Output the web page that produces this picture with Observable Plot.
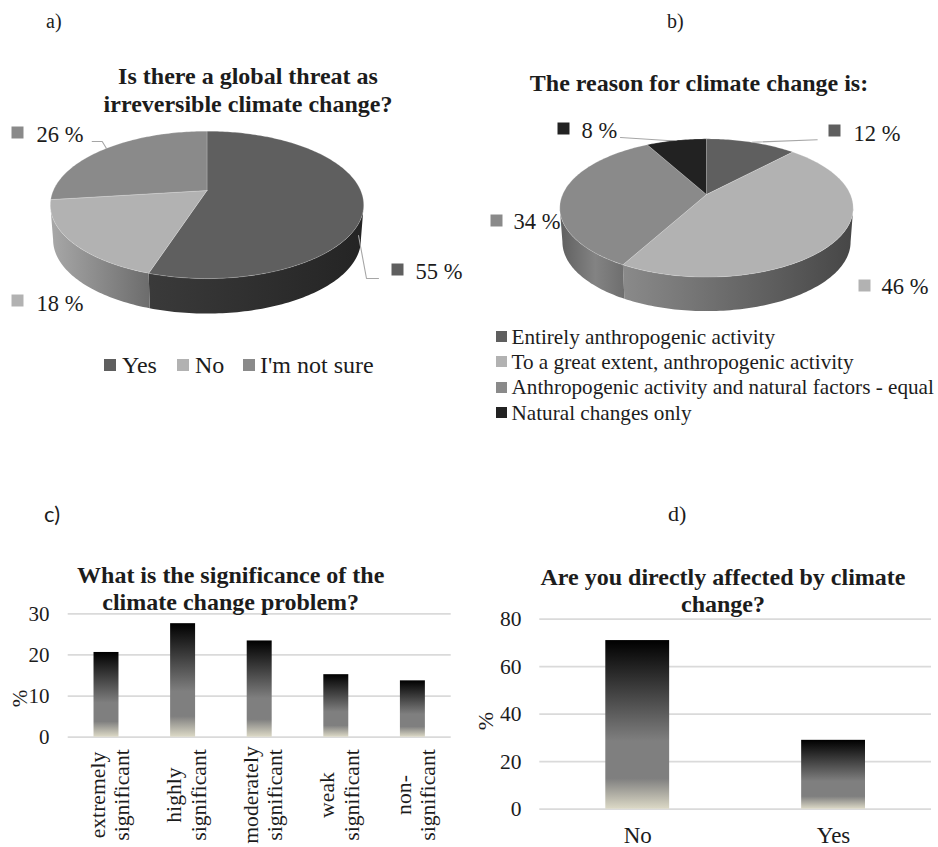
<!DOCTYPE html>
<html>
<head>
<meta charset="utf-8">
<script src="https://cdn.jsdelivr.net/npm/d3@7"></script>
<script src="https://cdn.jsdelivr.net/npm/@observablehq/plot@0.6"></script>
<style>
html,body{margin:0;padding:0;background:#fff;}
#page{position:relative;width:938px;height:847px;overflow:hidden;font-family:"Liberation Serif",serif;color:#1c1c1c;}
#page svg{position:absolute;overflow:visible;background:transparent;}
.t{position:absolute;white-space:pre;line-height:1;}
.sw{position:absolute;}
</style>
</head>
<body>
<div id="page"></div>
<script>
// ---------- data ----------
const threatCategories = ["Yes", "No", "I'm not sure"];
const threatValues = [55, 18, 27];
const threatLabels = ["55 %", "18 %", "26 %"];
const reasonCategories = ["Entirely anthropogenic activity", "To a great extent, anthropogenic activity", "Anthropogenic activity and natural factors - equal", "Natural changes only"];
const reasonValues = [12, 46, 34, 8];
const reasonLabels = ["12 %", "46 %", "34 %", "8 %"];
const significanceCategories = ["extremely\nsignificant", "highly\nsignificant", "moderately\nsignificant", "weak\nsignificant", "non-\nsignificant"];
const significanceValues = [20.6, 27.6, 23.4, 15.2, 13.7];
const significanceTicks = [0, 10, 20, 30];
const affectedCategories = ["No", "Yes"];
const affectedValues = [71, 29];
const affectedTicks = [0, 20, 40, 60, 80];

// ---------- style ----------
const serif = "Liberation Serif";
const ink = "#1c1c1c";
const grid = "#dadada";
const page = document.getElementById("page");

function label(text, x, base, size, opts = {}) {
  const d = document.createElement("div");
  d.className = "t";
  d.textContent = text;
  const fam = opts.family || serif;
  d.style.fontFamily = `"${fam}",serif`;
  d.style.fontSize = size + "px";
  d.style.fontWeight = opts.bold ? "700" : "400";
  d.style.top = (base - 0.8375 * size) + "px"; // baseline of a line-height:1 box
  if (opts.center) { d.style.left = x + "px"; d.style.transform = "translateX(-50%)"; }
  else d.style.left = x + "px";
  page.appendChild(d);
}
function swatch(x, y, s, color) {
  const d = document.createElement("div");
  d.className = "sw";
  d.style.cssText = `left:${x}px;top:${y}px;width:${s}px;height:${s}px;background:${color}`;
  page.appendChild(d);
}
function defs(html) {
  return () => {
    const g = document.createElementNS("http://www.w3.org/2000/svg", "defs");
    g.innerHTML = html;
    return g;
  };
}
function linGrad(id, stops, vertical) {
  const dir = vertical ? 'x1="0" y1="0" x2="0" y2="1"' : 'x1="0" y1="0" x2="1" y2="0"';
  return `<linearGradient id="${id}" ${dir}>` + stops.map(([o, c]) => `<stop offset="${o}" stop-color="${c}"/>`).join("") + `</linearGradient>`;
}

// ---------- 3D pie built from the values ----------
function pie3d({values, tops, sides, gradients, labels, leaders, left, top, width, height, cx, cy, a, b, k, depth, shrink}) {
  const arcs = d3.pie().sort(null).value(d => d)(values);
  const project = (t, ring) => {
    const X = Math.sin(t), Y = -Math.cos(t), s = 1 / (1 - k * Y);
    return ring ? {x: X * s * shrink, y: Y * s + depth / b} : {x: X * s, y: Y * s};
  };
  const samples = (t0, t1) => { const n = Math.max(2, Math.ceil((t1 - t0) / 0.02)); return d3.range(n + 1).map(i => t0 + (t1 - t0) * i / n); };
  const tR = Math.acos(-k), tL = 2 * Math.PI - tR;
  const marks = [defs(gradients)];
  arcs.forEach((arc, i) => {
    const t0 = Math.max(arc.startAngle, tR), t1 = Math.min(arc.endAngle, tL);
    if (t1 <= t0) return;
    const ts = samples(t0, t1);
    const poly = [...ts.map(t => project(t, false)), ...ts.slice().reverse().map(t => project(t, true))];
    marks.push(Plot.line([...poly, poly[0]], {x: "x", y: "y", fill: sides[i], stroke: null}));
  });
  arcs.forEach((arc, i) => {
    const pts = samples(arc.startAngle, arc.endAngle).map(t => project(t, false));
    const poly = [{x: 0, y: 0}, ...pts, {x: 0, y: 0}];
    marks.push(Plot.line(poly, {x: "x", y: "y", fill: tops[i], stroke: "#fff", strokeOpacity: 0.3, strokeWidth: 0.7}));
  });
  const toUnit = ([x, y]) => ({x: (x - left - cx) / a, y: (y - top - cy) / b});
  leaders.forEach(path => marks.push(Plot.line(path.map(toUnit), {x: "x", y: "y", stroke: "#a6a6a6", strokeWidth: 1.1})));
  labels.forEach((l) => {
    marks.push(Plot.dot([toUnit([l.sx + 6, l.sy + 6])], {x: "x", y: "y", symbol: "square", r: 6.77, fill: l.color, stroke: null}));
    marks.push(Plot.text([toUnit([l.tx, l.base - 0.32 * 22.5])], {x: "x", y: "y", text: () => l.text, textAnchor: "start", fontSize: 22.5, fill: ink, fontFamily: serif}));
  });
  const svg = Plot.plot({
    width, height, margin: 0,
    style: {background: "transparent", fontFamily: serif},
    x: {axis: null, domain: [-1, 1], range: [cx - a, cx + a]},
    y: {axis: null, domain: [-1, 1], range: [cy - b, cy + b]},
    marks
  });
  svg.style.left = left + "px";
  svg.style.top = top + "px";
  page.appendChild(svg);
}

// ---------- bars ----------
const barStops = [[0, "#000"], [0.6, "#7f7f7f"], [0.82, "#7f7f7f"], [1, "#dcd9c6"]];
function bars({id, cats, values, ticks, left, top, width, height, ml, mr, mt, mb, tickSize, tickPad, pctDx, pctDy, pctSize, extra}) {
  const data = cats.map((c, i) => ({c, v: values[i]}));
  const svg = Plot.plot({
    width, height, marginLeft: ml, marginRight: mr, marginTop: mt, marginBottom: mb,
    style: {background: "transparent", fontFamily: serif, color: ink},
    x: {domain: cats, paddingInner: 0.674, paddingOuter: 0.337, round: false, axis: null},
    y: {domain: [0, ticks[ticks.length - 1]], axis: null},
    marks: [
      defs(linGrad(id, barStops, true)),
      Plot.ruleY(ticks, {stroke: grid, strokeWidth: 1.8}),
      Plot.barY(data, {x: "c", y: "v", fill: `url(#${id})`}),
      Plot.axisY({ticks, tickSize: 0, tickPadding: tickPad, fontSize: tickSize, label: null, fill: ink}),
      Plot.text(["%"], {frameAnchor: "left", dx: pctDx, dy: pctDy, rotate: -90, textAnchor: "middle", lineAnchor: "middle", fontSize: pctSize, fill: ink}),
      ...extra
    ]
  });
  svg.style.left = left + "px";
  svg.style.top = top + "px";
  page.appendChild(svg);
}

// ---------- panel a ----------
label("a)", 46, 28, 20);
label("Is there a global threat as", 248, 84, 24, {bold: true, center: true});
label("irreversible climate change?", 248, 112, 24, {bold: true, center: true});
const shadeYes = "#5f5f5f", shadeNo = "#b2b2b2", shadeMaybe = "#8a8a8a", shadeNat = "#222222";
pie3d({
  values: threatValues,
  tops: [shadeYes, shadeNo, shadeMaybe],
  sides: ["url(#a0)", "url(#a1)", "#6a6a6a"],
  gradients: linGrad("a0", [[0, "#3a3a3a"], [1, "#242424"]]) + linGrad("a1", [[0, "#a8a8a8"], [1, "#6c6c6c"]]),
  labels: [
    {text: threatLabels[2], color: shadeMaybe, sx: 11, sy: 126, tx: 36, base: 141.5},
    {text: threatLabels[1], color: shadeNo, sx: 11, sy: 294, tx: 36, base: 310},
    {text: threatLabels[0], color: shadeYes, sx: 391, sy: 263, tx: 415, base: 278}
  ],
  leaders: [
    [[91.7, 141], [101.7, 141], [106, 148]],
    [[358, 235], [366, 278], [378, 278]]
  ],
  left: 0, top: 115, width: 469, height: 205,
  cx: 206.5, cy: 75, a: 153.7, b: 70.9, k: 0.195, depth: 35, shrink: 0.982
});
[[threatCategories[0], shadeYes, 104, 122], [threatCategories[1], shadeNo, 177, 195], [threatCategories[2], shadeMaybe, 243, 260]].forEach(([t, c, sx, tx]) => {
  swatch(sx, 359, 12, c);
  label(t, tx, 373, 24);
});

// ---------- panel b ----------
label("b)", 667, 28, 20);
label("The reason for climate change is:", 699, 91, 24, {bold: true, center: true});
pie3d({
  values: reasonValues,
  tops: [shadeYes, shadeNo, shadeMaybe, shadeNat],
  sides: ["#3f3f3f", "url(#b1)", "url(#b2)", "#111"],
  gradients: linGrad("b1", [[0, "#8a8a8a"], [1, "#464646"]]) + linGrad("b2", [[0, "#5f5f5f"], [0.55, "#838383"], [1, "#6e6e6e"]]),
  labels: [
    {text: reasonLabels[3], color: shadeNat, sx: 557, sy: 122, tx: 581, base: 137},
    {text: reasonLabels[0], color: shadeYes, sx: 828, sy: 124, tx: 853, base: 140},
    {text: reasonLabels[2], color: shadeMaybe, sx: 490, sy: 214, tx: 513, base: 228},
    {text: reasonLabels[1], color: shadeNo, sx: 858, sy: 279, tx: 881, base: 293}
  ],
  leaders: [
    [[620, 137], [666.7, 140], [675.7, 140]],
    [[816.7, 139.3], [751.7, 141.7]]
  ],
  left: 469, top: 115, width: 469, height: 205,
  cx: 237, cy: 79, a: 143.9, b: 66.5, k: 0.195, depth: 34, shrink: 0.982
});
[[reasonCategories[0], shadeYes, 331, 344.5], [reasonCategories[1], shadeNo, 356, 369.5], [reasonCategories[2], shadeMaybe, 381.5, 395], [reasonCategories[3], shadeNat, 406.5, 420.5]].forEach(([t, c, sy, base]) => {
  swatch(496, sy, 11, c);
  label(t, 511.5, base, 21.2);
});

// ---------- panel c ----------
label("c)", 44, 521.5, 22, {family: "Lato"});
bars({
  id: "gc", cats: significanceCategories, values: significanceValues, ticks: significanceTicks,
  left: 0, top: 600, width: 469, height: 247, ml: 67.7, mr: 18.3, mt: 13.3, mb: 110.3,
  tickSize: 21, tickPad: 18.7, pctDx: -47.7, pctDy: 23, pctSize: 21,
  extra: [Plot.text(significanceCategories, {x: d => d, text: d => d, frameAnchor: "bottom", lineAnchor: "middle", textAnchor: "middle", rotate: -90, dx: 2.5, dy: 57.8, fontSize: 21.7, lineHeight: 1.12, fill: ink})]
});
label("What is the significance of the", 230.7, 582.7, 24, {bold: true, center: true});
label("climate change problem?", 230.7, 610, 24, {bold: true, center: true});

// ---------- panel d ----------
label("d)", 668, 521.5, 22);
bars({
  id: "gd", cats: affectedCategories, values: affectedValues, ticks: affectedTicks,
  left: 469, top: 600, width: 469, height: 247, ml: 70.3, mr: 7, mt: 18.7, mb: 38.3,
  tickSize: 21.5, tickPad: 18.3, pctDx: -54, pctDy: 7, pctSize: 22,
  extra: [Plot.axisX({tickSize: 0, tickPadding: 17, fontSize: 23, label: null, fill: ink})]
});
label("Are you directly affected by climate", 723, 585, 24, {bold: true, center: true});
label("change?", 723, 611.7, 24, {bold: true, center: true});
</script>
</body>
</html>
